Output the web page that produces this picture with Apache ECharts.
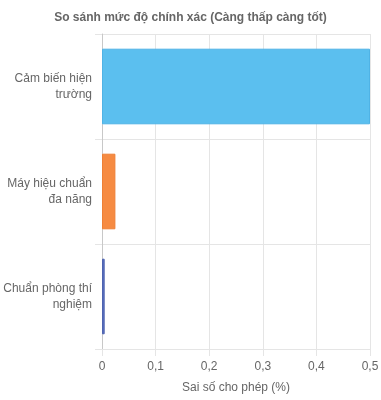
<!DOCTYPE html>
<html><head><meta charset="utf-8">
<script src="https://cdn.jsdelivr.net/npm/echarts@6/dist/echarts.min.js"></script>
<style>html,body{margin:0;padding:0;background:#fff}#c{width:381px;height:400px}</style>
</head><body><div id="c"></div>
<script>
const categories = ["Cảm biến hiện trường", "Máy hiệu chuẩn đa năng", "Chuẩn phòng thí nghiệm"];
const values = [0.5, 0.025, 0.005];
const barColors = ["#5bbfef", "#f68b42", "#5a70bf"];
const borderColors = ["#4fb3e6", "#ee8036", "#4e63b0"];
const xTicks = [0, 0.1, 0.2, 0.3, 0.4, 0.5];
const titleText = "So sánh mức độ chính xác (Càng thấp càng tốt)";
const xName = "Sai số cho phép (%)";

const font = "Liberation Sans, Arial, Helvetica, sans-serif";
const ctx = document.createElement('canvas').getContext('2d');
ctx.font = "12px " + font;
function wrap(text, maxW) {
  const words = text.normalize('NFC').split(' ');
  const lines = [];
  let cur = '';
  for (const w of words) {
    const t = cur ? cur + ' ' + w : w;
    if (cur && ctx.measureText(t).width > maxW) { lines.push(cur); cur = w; }
    else cur = t;
  }
  if (cur) lines.push(cur);
  return lines.join('\n');
}

const chart = echarts.init(document.getElementById('c'));
chart.setOption({
  animation: false,
  title: {text: titleText, left: 'center', top: 7,
    textStyle: {fontSize: 12, fontWeight: 'bold', color: '#666', fontFamily: font}},
  grid: {left: 102, right: 11, top: 34, bottom: 51, containLabel: false, outerBoundsMode: 'none'},
  xAxis: {
    type: 'value', min: xTicks[0], max: xTicks[xTicks.length-1], interval: 0.1,
    name: xName, nameLocation: 'middle', nameGap: 33,
    nameTextStyle: {fontSize: 12, color: '#666', fontFamily: font},
    axisLine: {show: false},
    axisTick: {show: true, length: 7, lineStyle: {color: '#e5e5e5'}},
    splitLine: {show: true, lineStyle: {color: '#e5e5e5'}},
    axisLabel: {fontSize: 12, color: '#666', fontFamily: font, margin: 12,
      formatter: v => String(Math.round(v*10)/10).replace('.', ',')}
  },
  yAxis: {
    type: 'category', data: categories, inverse: true,
    axisLine: {show: true, lineStyle: {color: '#c8c8c8'}},
    axisTick: {show: true, length: 7, lineStyle: {color: '#e5e5e5'}},
    splitLine: {show: true, lineStyle: {color: '#e5e5e5'}},
    axisLabel: {fontSize: 12, color: '#666', fontFamily: font, margin: 10,
      lineHeight: 16, align: 'right', formatter: v => wrap(v, 93)}
  },
  series: [{
    type: 'bar', barWidth: '72%',
    data: values.map((v, i) => ({value: v, itemStyle: {color: barColors[i], borderColor: borderColors[i], borderWidth: 1}}))
  }]
});
</script></body></html>
